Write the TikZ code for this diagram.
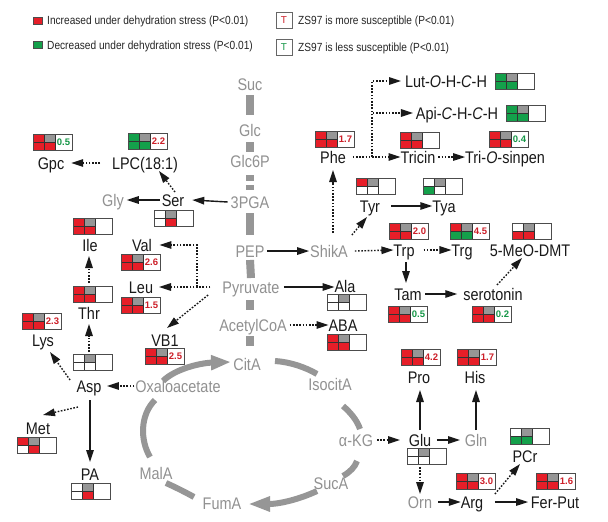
\documentclass[tikz,border=0pt]{standalone}
\usepackage{fontspec}
\setmainfont{Liberation Sans}
\newfontfamily\lblfont{Liberation Sans}[FakeStretch=0.86]
\usetikzlibrary{arrows.meta}
\definecolor{cR}{RGB}{230,30,40}
\definecolor{cG}{RGB}{20,160,75}
\definecolor{cK}{RGB}{150,150,150}
\definecolor{cW}{RGB}{255,255,255}
\definecolor{numR}{RGB}{205,30,40}
\definecolor{numG}{RGB}{20,150,70}
\definecolor{txtK}{RGB}{145,145,145}
\definecolor{txtB}{RGB}{25,25,25}
\tikzset{
  lbl/.style={font=\lblfont\fontsize{16.8}{18}\selectfont, inner sep=0pt, outer sep=0pt, text height=12pt, text depth=0pt, text=txtB},
  glbl/.style={lbl, text=txtK},
  legtxt/.style={anchor=west, inner sep=0pt, font=\lblfont\fontsize{11.8}{13}\selectfont, text height=8.4pt, text depth=0pt, text=black!85},
  legsq/.style={rectangle, minimum width=9pt, minimum height=7pt, inner sep=0pt, draw=black!70, line width=0.5pt},
  tbox/.style={rectangle, minimum size=16pt, inner sep=0pt, draw=black!60, fill=white, line width=0.6pt, font=\fontsize{10}{11}\selectfont},
  minibox/.style={rectangle, minimum width=39pt, minimum height=16pt, inner sep=0pt, outer sep=0pt, anchor=north west},
  gridln/.style={draw=black!80, line width=0.6pt},
  boxln/.style={draw=black!70, line width=0.7pt},
  numtxt/.style={inner sep=0pt, font=\bfseries\fontsize{9.5}{10}\selectfont},
  arr/.style={line width=1.4pt, draw=txtB, -{Triangle[length=12pt,width=7.5pt]}},
  darr/.style={arr, dash pattern=on 1.6pt off 1.6pt},
  bar/.style={line width=8pt, draw=cK},
  cyc/.style={line width=6pt, draw=cK},
}
% name, x, y, TL, TR, BL, BR, number, number colour
\newcommand\mbx[9]{%
  \node[minibox] (#1) at (#2,#3) {};
  \fill[#4] (#1.north west) rectangle ++(11,8);
  \fill[#5] (#1.north west) ++(11,0) rectangle ++(11,8);
  \fill[#6] (#1.north west) ++(0,8) rectangle ++(11,8);
  \fill[#7] (#1.north west) ++(11,8) rectangle ++(11,8);
  \draw[gridln] (#1.north west) ++(11,0) -- ++(0,16);
  \draw[gridln] (#1.north west) ++(0,8) -- ++(22,0);
  \draw[gridln] (#1.north west) ++(22,0) -- ++(0,16);
  \draw[boxln] (#1.north west) rectangle (#1.south east);
  \node[numtxt,text=#9] (#1n) at ([shift={(30.5,8)}]#1.north west) {#8};
}
\begin{document}
\begin{tikzpicture}[x=1pt,y=-1pt]
\useasboundingbox (0,0) rectangle (608,522);
\fill[white] (0,0) rectangle (608,522);

% ---------- legend ----------
\node[legsq,fill=cR] (lsq1) at (37.5,20.5) {};
\node[legtxt] (ltx1) at (47,20.5) {Increased under dehydration stress (P<0.01)};
\node[legsq,fill=cG] (lsq2) at (37.5,45) {};
\node[legtxt] (ltx2) at (47,45) {Decreased under dehydration stress (P<0.01)};
\node[tbox,text=numR] (lt1) at (284,20) {T};
\node[legtxt] (ltx3) at (298,20) {ZS97 is more susceptible (P<0.01)};
\node[tbox,text=numG] (lt2) at (284,47) {T};
\node[legtxt] (ltx4) at (298,47) {ZS97 is less susceptible (P<0.01)};

% ---------- gray (central) labels ----------
\node[glbl] (suc) at (250,84) {Suc};
\node[glbl] (glc) at (250,130) {Glc};
\node[glbl] (glc6p) at (250,161) {Glc6P};
\node[glbl] (pga) at (250,202) {3PGA};
\node[glbl] (pep) at (250,251) {PEP};
\node[glbl] (pyr) at (251,287) {Pyruvate};
\node[glbl] (acoa) at (253,325) {AcetylCoA};
\node[glbl] (cita) at (247,364) {CitA};
\node[glbl] (oxa) at (178,386) {Oxaloacetate};
\node[glbl] (iso) at (330,384) {IsocitA};
\node[glbl] (akg) at (356,440) {α-KG};
\node[glbl] (suca) at (331,483) {SucA};
\node[glbl] (fuma) at (222,503) {FumA};
\node[glbl] (mala) at (156,473) {MalA};
\node[glbl] (gly) at (113,200) {Gly};
\node[glbl] (shika) at (329,251) {ShikA};
\node[glbl] (gln) at (476,440) {Gln};
\node[glbl] (orn) at (420,502) {Orn};

% ---------- black labels ----------
\node[lbl] (gpc) at (51,163) {Gpc};
\node[lbl] (lpc) at (145,163) {LPC(18:1)};
\node[lbl] (ser) at (173,200) {Ser};
\node[lbl] (ile) at (90,245) {Ile};
\node[lbl] (val) at (142,245) {Val};
\node[lbl] (leu) at (141,287) {Leu};
\node[lbl] (vb1) at (165,340) {VB1};
\node[lbl] (thr) at (89,313) {Thr};
\node[lbl] (lys) at (43,340) {Lys};
\node[lbl] (asp) at (89,386) {Asp};
\node[lbl] (met) at (38,428) {Met};
\node[lbl] (pa) at (90,474) {PA};
\node[lbl] (phe) at (333,157) {Phe};
\node[lbl] (lut) at (446,81) {Lut-\textit{O}-H-\textit{C}-H};
\node[lbl] (api) at (457,113) {Api-\textit{C}-H-\textit{C}-H};
\node[lbl] (tricin) at (418,157) {Tricin};
\node[lbl] (trios) at (505,157) {Tri-\textit{O}-sinpen};
\node[lbl] (tyr) at (370,206) {Tyr};
\node[lbl] (tya) at (444,206) {Tya};
\node[lbl] (trp) at (404,250) {Trp};
\node[lbl] (trg) at (462,250) {Trg};
\node[lbl] (meo) at (530,250) {5-MeO-DMT};
\node[lbl] (ala) at (345,286.5) {Ala};
\node[lbl] (aba) at (343,325) {ABA};
\node[lbl] (tam) at (408,294) {Tam};
\node[lbl] (sero) at (493,294) {serotonin};
\node[lbl] (pro) at (419,377) {Pro};
\node[lbl] (his) at (475,377) {His};
\node[lbl] (glu) at (420,440) {Glu};
\node[lbl] (arg) at (472,502) {Arg};
\node[lbl] (ferput) at (555,502) {Fer-Put};
\node[lbl] (pcr) at (525,456) {PCr};

% ---------- mini boxes ----------
\mbx{bgpc}{33}{134}{cR}{cK}{cR}{cR}{0.5}{numG}
\mbx{blpc}{128}{133}{cG}{cK}{cG}{cG}{2.2}{numR}
\mbx{bser}{154}{210}{cW}{cK}{cW}{cR}{}{numR}
\mbx{bile}{73}{218}{cR}{cK}{cR}{cR}{}{numR}
\mbx{bval}{121}{254}{cR}{cK}{cR}{cR}{2.6}{numR}
\mbx{bleu}{121}{297}{cR}{cK}{cR}{cR}{1.5}{numR}
\mbx{bvb1}{145}{348}{cR}{cK}{cR}{cR}{2.5}{numR}
\mbx{bthr}{73}{286}{cR}{cK}{cR}{cR}{}{numR}
\mbx{blys}{22}{313}{cR}{cK}{cR}{cR}{2.3}{numR}
\mbx{basp}{73}{354}{cW}{cK}{cW}{cW}{}{numR}
\mbx{bmet}{17}{437}{cR}{cK}{cW}{cR}{}{numR}
\mbx{bpa}{71}{483}{cW}{cK}{cW}{cR}{}{numR}
\mbx{bphe}{315}{131}{cR}{cK}{cR}{cR}{1.7}{numR}
\mbx{blut}{495}{73}{cG}{cK}{cG}{cG}{}{numR}
\mbx{bapi}{506}{105}{cG}{cK}{cG}{cG}{}{numR}
\mbx{btricin}{400}{132}{cR}{cK}{cR}{cR}{}{numR}
\mbx{btrios}{489}{131}{cR}{cK}{cR}{cR}{0.4}{numG}
\mbx{btyr}{356}{178}{cR}{cK}{cW}{cW}{}{numR}
\mbx{btya}{423}{178}{cW}{cK}{cG}{cW}{}{numR}
\mbx{btrp}{389}{223}{cR}{cK}{cR}{cR}{2.0}{numR}
\mbx{btrg}{450}{223}{cR}{cK}{cG}{cG}{4.5}{numR}
\mbx{bmeo}{512}{223}{cW}{cK}{cR}{cR}{}{numR}
\mbx{bala}{327}{294.5}{cW}{cK}{cW}{cW}{}{numR}
\mbx{baba}{327}{334}{cR}{cK}{cR}{cR}{}{numR}
\mbx{btam}{388}{306}{cR}{cK}{cR}{cR}{0.5}{numG}
\mbx{bsero}{472}{306}{cR}{cK}{cR}{cR}{0.2}{numG}
\mbx{bpro}{401}{349}{cR}{cK}{cR}{cR}{4.2}{numR}
\mbx{bhis}{457}{349}{cR}{cK}{cR}{cR}{1.7}{numR}
\mbx{bglu}{407}{448}{cW}{cK}{cW}{cW}{}{numR}
\mbx{barg}{456}{473}{cR}{cK}{cR}{cR}{3.0}{numR}
\mbx{bferput}{536}{473}{cR}{cK}{cR}{cR}{1.6}{numR}
\mbx{bpcr}{510}{428}{cW}{cK}{cG}{cG}{}{numR}

% ---------- central gray bars ----------
\draw[bar] ([shift={(0,5)}]suc.south) -- ([shift={(0,-9)}]glc.north);
\draw[bar] ([shift={(0,6)}]glc.south) -- ([shift={(0,-3)}]glc6p.north);
\draw[bar, dash pattern=on 6pt off 4pt] ([shift={(0,8)}]glc6p.south) -- ([shift={(0,-6)}]pga.north);
\draw[bar] ([shift={(0,5)}]pga.south) -- ([shift={(0,-10)}]pep.north);
\draw[bar] ([shift={(0,3)}]pep.south) -- ([shift={(0,-3)}]pyr.north);
\draw[bar] ([shift={(-1,7)}]pyr.south) -- ([shift={(-3,-9)}]acoa.north);
\draw[bar] ([shift={(-3,5)}]acoa.south) -- ([shift={(3,-12)}]cita.north);

% ---------- TCA cycle ----------
\draw[cyc,-{Triangle[length=20pt,width=14pt]}] (163,381) .. controls (175,369) and (200,363) .. (231,362);
\draw[cyc] (275,361) .. controls (290,362) and (305,367) .. (317,374);
\draw[cyc] (343,406) .. controls (350,412) and (357,420) .. (360,429);
\draw[cyc] (357,461) .. controls (355,467) and (350,472) .. (343,476);
\draw[cyc,-{Triangle[length=22pt,width=14pt]}] (317,491) .. controls (300,499) and (280,504) .. (248,504);
\draw[cyc] (194,497) .. controls (185,492) and (175,487) .. (166,483);
\draw[cyc] (150,457) .. controls (140,440) and (140,415) .. (155,400);

% ---------- connectors: left ----------
\draw[darr] ([shift={(-12,0)}]lpc.west) -- ([shift={(7,0)}]gpc.east);
\draw[darr] ([shift={(2,-2)}]ser.north) -- ([shift={(14,2)}]lpc.south);
\draw[arr] ([shift={(-3,0)}]pga.west) -- ([shift={(8,0)}]ser.east);
\draw[arr] ([shift={(-2,0)}]ser.west) -- ([shift={(3,0)}]gly.east);
\coordinate (vbr) at (197,287);
\draw[darr] ([shift={(-12,0)}]pyr.west) -- ([shift={(6,0)}]leu.east);
\draw[darr] (vbr) |- ([shift={(7.5,0)}]val.east);
\draw[darr] ([shift={(-14.4,8)}]pyr.west) -- ([shift={(2,-6)}]vb1.north);
\draw[darr] ([shift={(-3.5,-3)}]bthr.north) -- ([shift={(-1,5)}]ile.south);
\draw[darr] ([shift={(-3.5,-2)}]basp.north) -- ([shift={(0,5)}]thr.south);
\draw[darr] ([shift={(-6.5,-6)}]asp.west) -- ([shift={(7,6)}]lys.south);
\draw[darr] ([shift={(-1,0)}]oxa.west) -- ([shift={(5.5,0)}]asp.east);
\draw[darr] ([shift={(-11,15)}]asp.south) -- ([shift={(5,-7)}]met.north);
\draw[arr] ([shift={(1,8)}]asp.south) -- ([shift={(0,-6)}]pa.north);

% ---------- connectors: right ----------
\draw[arr] ([shift={(3,0)}]pep.east) -- ([shift={(-1,0)}]shika.west);
\draw[darr] ([shift={(4,-12)}]shika.north) -- ([shift={(0,7)}]phe.south);
\draw[darr] ([shift={(4,-10)}]shika.north east) -- ([shift={(-3,5)}]tyr.south);
\draw[arr] ([shift={(11,0)}]tyr.east) -- (tya.west);
\draw[darr] ([shift={(7,0)}]shika.east) -- (trp.west);
\draw[darr] ([shift={(9,0)}]trp.east) -- (trg.west);
\draw[arr] ([shift={(2,6)}]trp.south) -- ([shift={(-2,-5)}]tam.north);
\draw[arr] ([shift={(3.5,0)}]tam.east) -- ([shift={(-6,0)}]sero.west);
\draw[darr] ([shift={(4,-3)}]sero.north) -- ([shift={(-8,2)}]meo.south);
\draw[arr] ([shift={(4.4,0)}]pyr.east) -- (pyr.east -| ala.west);
\draw[darr] ([shift={(3,0)}]acoa.east) -- (aba.west);
\coordinate (pbr) at (372,157);
\draw[darr] ([shift={(7,0)}]phe.east) -- (tricin.west);
\draw[darr] (pbr) |- ([shift={(-4,0)}]lut.west);
\draw[darr] (pbr) |- ([shift={(-3,0)}]api.west);
\draw[darr] ([shift={(3,0)}]tricin.east) -- (trios.west);
\draw[darr] ([shift={(4,0)}]akg.east) -- ([shift={(-8.7,0)}]glu.west);
\draw[arr] ([shift={(0,-4)}]glu.north) -- ([shift={(1,7)}]pro.south);
\draw[arr] ([shift={(5.7,0)}]glu.east) -- ([shift={(-4.7,0)}]gln.west);
\draw[arr] ([shift={(0,-4)}]gln.north) -- ([shift={(1,7)}]his.south);
\draw[darr] ([shift={(-6.5,3)}]bglu.south) -- ([shift={(0,-2)}]orn.north);
\draw[arr] ([shift={(6,0)}]orn.east) -- (arg.west);
\draw[arr] ([shift={(11.7,0)}]arg.east) -- ([shift={(-2.8,0)}]ferput.west);
\draw[darr] ([shift={(11.7,-2)}]arg.north east) -- ([shift={(-5,2)}]pcr.south);
\end{tikzpicture}
\end{document}
